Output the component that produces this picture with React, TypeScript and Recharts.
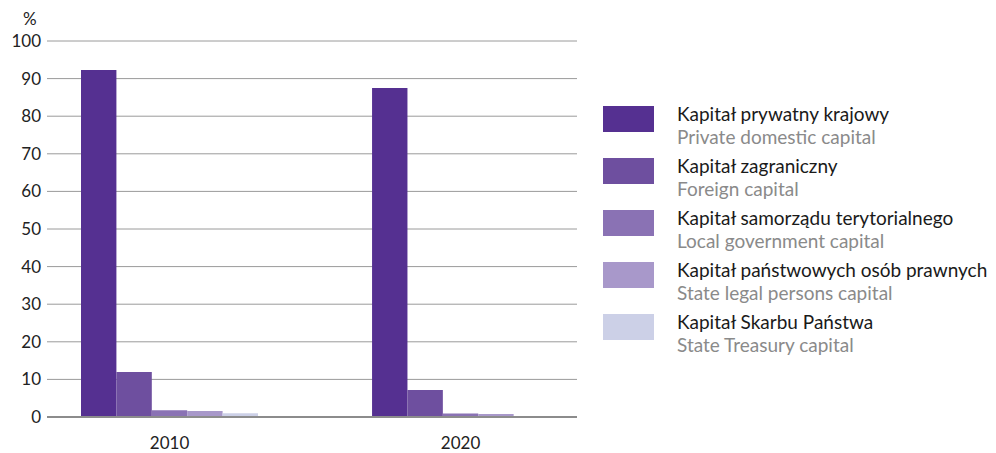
import React from "react";
import { BarChart, Bar, XAxis, YAxis, CartesianGrid } from "recharts";

const years = [2010, 2020];
const privateDomestic = [92.3, 87.5];
const foreign = [12.0, 7.2];
const localGov = [1.8, 0.9];
const stateLegal = [1.6, 0.8];
const treasury = [1.0, 0.1];

const seriesKeys = ["privateDomestic", "foreign", "localGov", "stateLegal", "treasury"];
const seriesColors = ["#553091", "#6e4f9f", "#8a72b4", "#a898ca", "#ccd0e7"];
const labelsPl = [
  "Kapitał prywatny krajowy",
  "Kapitał zagraniczny",
  "Kapitał samorządu terytorialnego",
  "Kapitał państwowych osób prawnych",
  "Kapitał Skarbu Państwa",
];
const labelsEn = [
  "Private domestic capital",
  "Foreign capital",
  "Local government capital",
  "State legal persons capital",
  "State Treasury capital",
];
const yTicks = [0, 10, 20, 30, 40, 50, 60, 70, 80, 90, 100];

const data = years.map((y, i) => ({
  year: y,
  privateDomestic: privateDomestic[i],
  foreign: foreign[i],
  localGov: localGov[i],
  stateLegal: stateLegal[i],
  treasury: treasury[i],
}));

const FONT = "Lato, 'Open Sans', sans-serif";

export default function App() {
  return (
    <div style={{ position: "relative", width: 980, height: 445, fontFamily: FONT }}>
      <div style={{ position: "absolute", left: 15, top: 1, fontSize: 17, color: "#222", lineHeight: "20px" }}>%</div>
      <BarChart
        width={980}
        height={445}
        data={data}
        margin={{ top: 33, right: 411, bottom: 0, left: 0 }}
        barGap={0}
      >
        <CartesianGrid vertical={false} stroke="#9a9a9a" strokeWidth={1} />
        <XAxis
          dataKey="year"
          type="number"
          domain={[2005.79, 2024.0]}
          ticks={years}
          tickLine={false}
          axisLine={{ stroke: "#8c8c8c", strokeWidth: 2 }}
          height={36}
          tickMargin={14}
          tick={{ fill: "#222", fontSize: 17, fontFamily: FONT }}
          allowDataOverflow
        />
        <YAxis
          domain={[0, 100]}
          ticks={yTicks}
          width={39}
          tickLine={false}
          axisLine={false}
          tickMargin={0}
          tick={{ fill: "#222", fontSize: 17, fontFamily: FONT }}
        />
        {seriesKeys.map((k, i) => (
          <Bar key={k} dataKey={k} fill={seriesColors[i]} barSize={35.4} isAnimationActive={false} />
        ))}
      </BarChart>
      <div style={{ position: "absolute", left: 595, top: 98 }}>
        {seriesKeys.map((k, i) => (
          <div key={k} style={{ position: "relative", height: 52 }}>
            <div style={{ position: "absolute", left: 0, top: 0, width: 51, height: 26, background: seriesColors[i] }} />
            <div style={{ position: "absolute", left: 74, top: -4, fontSize: 19, lineHeight: "23px", color: "#1a1a1a", whiteSpace: "nowrap" }}>
              {labelsPl[i]}
            </div>
            <div style={{ position: "absolute", left: 74, top: 19, fontSize: 19, lineHeight: "23px", color: "#8a8a8a", whiteSpace: "nowrap" }}>
              {labelsEn[i]}
            </div>
          </div>
        ))}
      </div>
    </div>
  );
}
